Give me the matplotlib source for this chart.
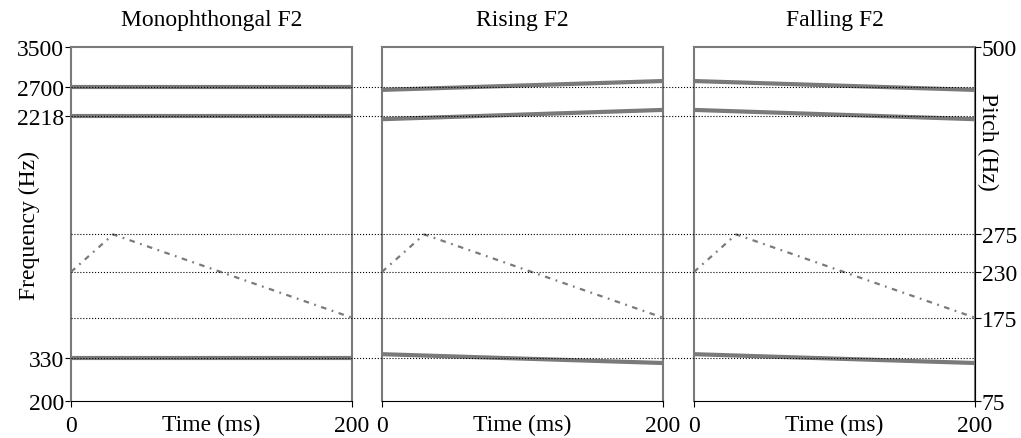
import matplotlib.pyplot as plt
import numpy as np

plt.rcParams['font.family'] = ['Liberation Serif', 'DejaVu Serif']

# formant tracks (Hz) at start and end of the vowel
time = [0, 200]
mono_f1 = [330, 330]
mono_f2 = [2218, 2218]
mono_f3 = [2700, 2700]
rise_f1 = [342, 312]
rise_f2 = [2170, 2310]
rise_f3 = [2640, 2800]
fall_f1 = [342, 312]
fall_f2 = [2310, 2170]
fall_f3 = [2800, 2640]

# pitch contour (Hz), same in all three
pitch_time = [0, 30, 200]
pitch = [230, 275, 175]

titles = ["Monophthongal F2", "Rising F2", "Falling F2"]
freq_ticks = [200, 330, 2218, 2700, 3500]
pitch_ticks = [75, 175, 230, 275, 500]
freq_guides = [330, 2218, 2700]
pitch_guides = [175, 230, 275]


def erb(f):
    return 21.4 * np.log10(1 + 0.00437 * np.asarray(f, dtype=float))


def erb_inv(e):
    return (10 ** (np.asarray(e, dtype=float) / 21.4) - 1) / 0.00437


W, H = 1021, 439
fig = plt.figure(figsize=(W / 100, H / 100), dpi=100)

bottom = (H - 402) / H
height = 354 / H
lefts = [71, 382, 694]
pw = 281

panels = [(mono_f1, mono_f2, mono_f3), (rise_f1, rise_f2, rise_f3), (fall_f1, fall_f2, fall_f3)]
fs = 17
gray = '#7a7a7a'

for i, (f1, f2, f3) in enumerate(panels):
    ax = fig.add_axes([lefts[i] / W, bottom, pw / W, height])
    ax.patch.set_alpha(0)
    ax.set_yscale('function', functions=(erb, erb_inv))
    ax.set_ylim(200, 3500)
    ax.set_xlim(0, 200)
    for f in (f1, f2, f3):
        ax.plot(time, f, color=gray, lw=3, solid_capstyle='butt')
    ax.set_title(titles[i], fontsize=fs, pad=16)
    ax.set_xticks([0, 200])
    ax.tick_params(axis='x', labelsize=fs, length=4, pad=6, color='black')
    ax.set_xlabel('Time (ms)', fontsize=fs, va='top')
    ax.xaxis.set_label_coords(0.5, -0.036)
    for s in ('left', 'right', 'top'):
        ax.spines[s].set_color(gray)
        ax.spines[s].set_linewidth(1.5)
    ax.spines['bottom'].set_linewidth(0.8)
    if i == 0:
        ax.set_yticks(freq_ticks)
        ax.set_yticklabels([str(t) for t in freq_ticks])
        ax.yaxis.set_minor_locator(plt.NullLocator())
        ax.tick_params(axis='y', labelsize=fs, length=4, pad=1)
        ax.set_ylabel('Frequency (Hz)', fontsize=fs)
        ax.yaxis.set_label_coords(-0.11, 0.5)
    else:
        ax.set_yticks([])
        ax.yaxis.set_minor_locator(plt.NullLocator())

    tw = ax.twinx()
    tw.set_ylim(75, 500)
    tw.plot(pitch_time, pitch, color=gray, lw=1.6, ls=(0, (2.5, 2.5, 0.8, 2.5)))
    for s in tw.spines.values():
        s.set_visible(False)
    if i == 2:
        tw.spines['right'].set_visible(True)
        tw.spines['right'].set_color('black')
        tw.spines['right'].set_linewidth(0.8)
        tw.set_yticks(pitch_ticks)
        tw.tick_params(axis='y', labelsize=fs, length=4, pad=1)
        tw.set_ylabel('Pitch (Hz)', fontsize=fs, rotation=270, va='center')
        tw.yaxis.set_label_coords(1.045, 0.735)
    else:
        tw.set_yticks([])

# dotted guide lines running across all three panels
x0, x1 = lefts[0] / W, (lefts[2] + pw) / W
guide = fig.add_axes([x0, bottom, x1 - x0, height])
guide.set_yscale('function', functions=(erb, erb_inv))
guide.set_ylim(200, 3500)
guide.set_xlim(0, 1)
guide.axis('off')
for f in freq_guides:
    guide.axhline(f, color='black', lw=0.8, ls=':')

guide2 = fig.add_axes([x0, bottom, x1 - x0, height])
guide2.set_ylim(75, 500)
guide2.set_xlim(0, 1)
guide2.axis('off')
for p in pitch_guides:
    guide2.axhline(p, color='black', lw=0.8, ls=':')

fig.savefig('out.png', dpi=100)
